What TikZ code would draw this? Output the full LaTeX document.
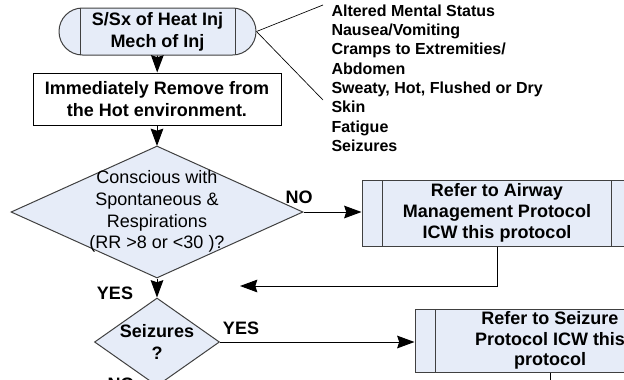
\documentclass[tikz,border=0pt]{standalone}
\usepackage{fontspec}
\setmainfont{Liberation Sans}
\usepackage{tikz}
\usetikzlibrary{arrows.meta, shapes, positioning}
\definecolor{procfill}{RGB}{230,236,248}
\tikzset{
  bars/.style={path picture={
      \draw[black!75] ([xshift=#1]path picture bounding box.north west) -- ([xshift=#1]path picture bounding box.south west);
      \draw[black!75] ([xshift=-#1]path picture bounding box.north east) -- ([xshift=-#1]path picture bounding box.south east);}},
  term/.style={rectangle, draw=black!75, fill=procfill, rounded corners=17.6pt,
               minimum width=147.75pt, minimum height=35.25pt, inner sep=0pt,
               font=\bfseries\fontsize{13.5}{16.5}\selectfont, align=center, bars=15.75pt},
  act/.style={rectangle, draw=black, fill=white, minimum width=186pt, minimum height=39pt,
              inner sep=0pt, font=\bfseries\fontsize{13.5}{16}\selectfont, align=center},
  proc/.style={rectangle, draw=black!75, fill=procfill, minimum width=202.5pt, inner sep=0pt,
               font=\bfseries\fontsize{13.5}{15.6}\selectfont, align=center, bars=15.5pt},
  dia/.style={diamond, draw=black!75, fill=procfill, inner sep=0pt},
  qtxt/.style={font=\fontsize{13.5}{16.3}\selectfont, align=center, inner sep=0pt},
  lbl/.style={font=\bfseries\fontsize{13.5}{16}\selectfont, inner sep=0pt},
  arr/.style={-{Stealth[length=13pt, width=9.5pt, inset=1.5pt]}, black}
}
\begin{document}
\begin{tikzpicture}[x=0.75pt, y=-0.75pt, line width=0.75pt]
  \useasboundingbox (0,0) rectangle (624,379);
  % top of the chart
  \node[term] (sx) at (157.5,31.5) {S/Sx of Heat Inj\\Mech of Inj};
  \node[act] (rem) at (157,99) {Immediately Remove from\\the Hot environment.};
  \node[font=\bfseries\fontsize{12}{14.5}\selectfont, align=left, inner sep=0pt, anchor=north west]
    (signs) at (331,4) {Altered Mental Status\\Nausea/Vomiting\\Cramps to Extremities/\\Abdomen\\Sweaty, Hot, Flushed or Dry\\Skin\\Fatigue\\Seizures};
  \coordinate (c1) at (323,5);
  \coordinate (c2) at (323,100);
  \draw[line width=0.5pt] (sx.east) -- (c1);
  \draw[line width=0.5pt] (sx.east) -- (c2);
  \draw[arr] (sx) -- (rem);
  \draw[arr] (rem) -- (157,146);
  % breathing question
  \node[dia, minimum width=219pt, minimum height=99pt] (q1) at (157,212) {};
  \node[qtxt] (q1t) at (157,211.5) {Conscious with\\Spontaneous \&\\Respirations\\(RR >8 or <30 )?};
  \node[proc, minimum height=49.5pt] (ref1) at (497,213) {Refer to Airway\\Management Protocol\\ICW this protocol};
  \draw[arr] (q1.east) -- (q1.east -| ref1.west);
  \node[lbl] (no1) at (299,197) {NO};
  \coordinate (back) at (240,286);
  \draw[arr] (ref1.south) |- (back);
  % seizures question
  \node[dia, minimum width=93.75pt, minimum height=66pt] (q2) at (157,342) {};
  \node[lbl, align=center, font=\bfseries\fontsize{13.5}{15.8}\selectfont] (q2t) at (157,342) {Seizures\\?};
  \draw[arr] (q1.south) -- (q2.north);
  \node[lbl] (yes1) at (115,293) {YES};
  \node[proc, minimum height=47.25pt] (ref2) at (550,340.5) {Refer to Seizure\\Protocol ICW this\\protocol};
  \draw[arr] (q2.east) -- (q2.east -| ref2.west);
  \node[lbl] (yes2) at (241,328) {YES};
  \coordinate (down) at (550,395);
  \draw (ref2.south) -- (down);
  \node[lbl] (no2) at (121,384) {NO};
\end{tikzpicture}
\end{document}
